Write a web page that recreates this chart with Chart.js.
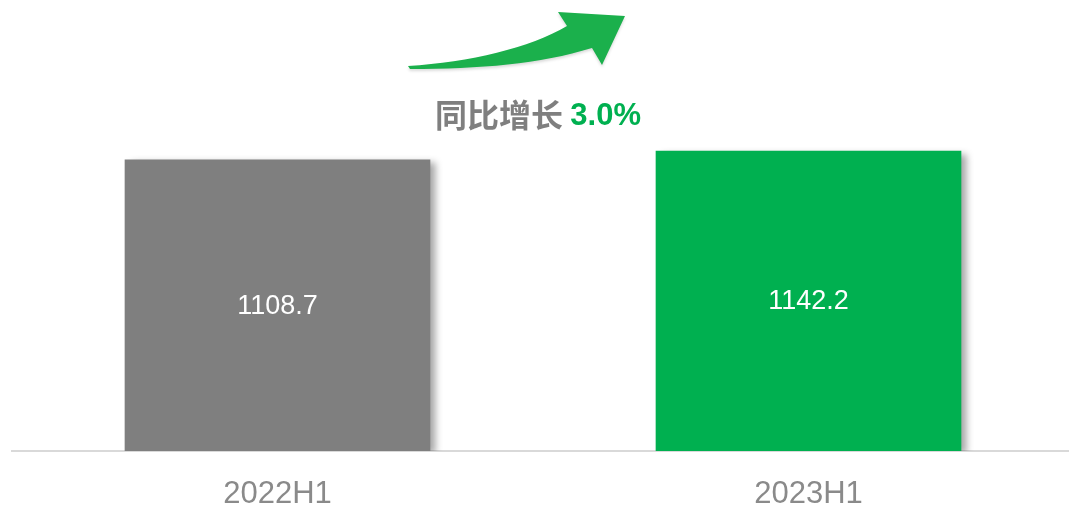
<!DOCTYPE html>
<html>
<head>
<meta charset="utf-8">
<script src="https://cdn.jsdelivr.net/npm/chart.js@4.4.0/dist/chart.umd.min.js"></script>
<style>
  html, body { margin: 0; padding: 0; background: #fff; overflow: hidden; }
  #wrap { width: 1080px; height: 505px; }
</style>
</head>
<body>
<div id="wrap"><canvas id="barChart" width="1080" height="505"></canvas></div>
<script>
const periods = ['2022H1', '2023H1'];
const revenue = [1108.7, 1142.2];
const barColors = ['#7f7f7f', '#00b050'];
const growthLabel = '同比增长';
const growthValue = '3.0%';

// shadow on the right side of the bars
const barShadow = {
    id: 'barShadow',
    beforeDatasetsDraw(chart) {
        const c = chart.ctx;
        c.save();
        c.shadowColor = 'rgba(0,0,0,0.35)';
        c.shadowBlur = 7;
        c.shadowOffsetX = 6;
        c.shadowOffsetY = 3;
    },
    afterDatasetsDraw(chart) {
        chart.ctx.restore();
    }
};

// value in the middle of each bar
const valueLabels = {
    id: 'valueLabels',
    afterDatasetsDraw(chart) {
        const c = chart.ctx;
        const meta = chart.getDatasetMeta(0);
        c.save();
        c.fillStyle = '#ffffff';
        c.font = '27px "Liberation Sans", Arial, sans-serif';
        c.textAlign = 'center';
        c.textBaseline = 'middle';
        meta.data.forEach((bar, i) => {
            const mid = (bar.y + bar.base) / 2;
            c.fillText(revenue[i].toFixed(1), bar.x, mid + 1);
        });
        c.restore();
    }
};

// growth arrow + caption above the chart
const growthNote = {
    id: 'growthNote',
    afterDraw(chart) {
        const c = chart.ctx;
        c.save();
        c.shadowColor = 'rgba(0,0,0,0.15)';
        c.shadowBlur = 3;
        c.shadowOffsetY = 2;
        c.fillStyle = '#1bb04c';
        c.beginPath();
        c.moveTo(408, 66);
        c.bezierCurveTo(470, 62, 530, 48, 567, 26);
        c.lineTo(558, 12);
        c.lineTo(625, 16);
        c.lineTo(602, 65);
        c.lineTo(592, 48);
        c.bezierCurveTo(540, 64, 480, 69, 410, 69);
        c.closePath();
        c.fill();
        c.restore();

        c.save();
        c.textBaseline = 'middle';
        c.textAlign = 'left';
        c.font = 'bold 32px "Noto Sans CJK SC", sans-serif';
        const w1 = c.measureText(growthLabel + ' ').width;
        c.font = 'bold 31px "Liberation Sans", Arial, sans-serif';
        const w2 = c.measureText(growthValue).width;
        let x = 538 - (w1 + w2) / 2;
        c.font = 'bold 32px "Noto Sans CJK SC", sans-serif';
        c.fillStyle = '#7f7f7f';
        c.fillText(growthLabel, x, 115);
        c.font = 'bold 31px "Liberation Sans", Arial, sans-serif';
        c.fillStyle = '#00b050';
        c.fillText(growthValue, x + w1, 116);
        c.restore();
    }
};

const ctx = document.getElementById('barChart').getContext('2d');
const myChart = new Chart(ctx, {
    type: 'bar',
    data: {
        labels: periods,
        datasets: [{
            data: revenue,
            backgroundColor: barColors,
            borderWidth: 0,
            barThickness: 305
        }]
    },
    options: {
        responsive: false,
        animation: false,
        layout: { padding: { left: 12, right: 6, top: 0, bottom: 0 } },
        plugins: {
            legend: { display: false },
            tooltip: { enabled: false }
        },
        scales: {
            x: {
                grid: { display: false, drawTicks: false },
                border: { display: true, color: '#d9d9d9', width: 2 },
                ticks: {
                    color: '#8a8a8a',
                    font: { family: '"Liberation Sans", Arial, sans-serif', size: 31 },
                    padding: 25
                },
                afterFit(scale) { scale.height = 54; }
            },
            y: {
                display: false,
                min: 0,
                max: 1717
            }
        }
    },
    plugins: [barShadow, valueLabels, growthNote]
});
</script>
</body>
</html>
